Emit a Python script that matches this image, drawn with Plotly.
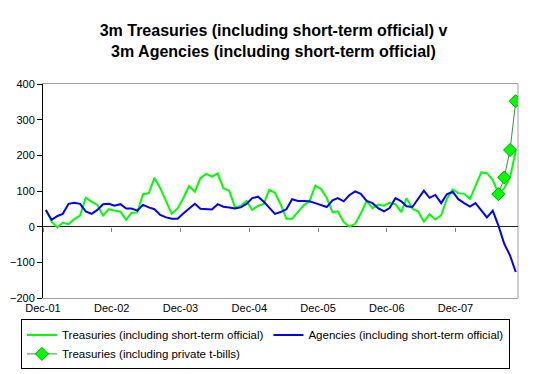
import pandas as pd
import plotly.graph_objects as go

start_month = "2001-12-01"
n_months = 83

treasuries = [47, 14, -2, 11, 7, 21, 31, 81, 70, 61, 31, 49, 45, 42, 19, 39, 40, 91, 94, 137,
              108, 72, 36, 51, 79, 114, 98, 136, 148, 140, 149, 108, 101, 54, 58, 72, 47, 58, 64, 103,
              95, 63, 22, 22, 40, 60, 70, 115, 106, 81, 40, 43, 13, 0, 8, 37, 72, 52, 62, 59,
              67, 63, 41, 80, 50, 43, 14, 35, 20, 32, 78, 104, 94, 92, 78, 113, 152, 150, 131, 92,
              108, 139, 212]
agencies = [47, 19, 30, 36, 64, 67, 64, 43, 36, 47, 63, 64, 59, 63, 51, 51, 45, 61, 54, 49,
            33, 26, 22, 22, 37, 51, 64, 50, 50, 48, 63, 56, 54, 51, 54, 64, 80, 84, 70, 53,
            36, 41, 49, 77, 72, 72, 71, 66, 60, 55, 74, 80, 71, 88, 99, 92, 72, 66, 52, 43,
            52, 80, 71, 57, 55, 78, 101, 81, 89, 66, 91, 98, 77, 66, 56, 66, 47, 26, 45, 3,
            -48, -81, -127]
private_tbills = [None] * 79 + [91, 138, 215, 352]

names = ["Treasuries (including short-term official)",
         "Agencies (including short-term official)",
         "Treasuries (including private t-bills)"]
title_lines = ["3m Treasuries (including short-term official) v",
               "3m Agencies (including short-term official)"]
y_ticks = [-200, -100, 0, 100, 200, 300, 400]

dates = pd.date_range(start_month, periods=n_months, freq="MS") + pd.Timedelta(days=15)
x_range = ["2001-12-01", "2008-10-28"]
FONT = "Liberation Sans, Arial, sans-serif"

fig = go.Figure()
fig.add_trace(go.Scatter(x=dates, y=treasuries, name=names[0], mode="lines",
                         line=dict(color="#00FF00", width=2)))
fig.add_trace(go.Scatter(x=dates, y=agencies, name=names[1], mode="lines",
                         line=dict(color="#0000FF", width=2)))
fig.add_trace(go.Scatter(x=dates, y=private_tbills, name=names[2], mode="lines+markers",
                         xaxis="x2",
                         line=dict(color="#339933", width=1),
                         marker=dict(symbol="diamond", size=10, color="#00FF00",
                                     line=dict(color="#00A000", width=1))))

fig.update_layout(
    width=547, height=374,
    margin=dict(l=43, r=29, t=84, b=76, autoexpand=False),
    paper_bgcolor="white", plot_bgcolor="white",
    font=dict(family=FONT, size=11, color="black"),
    title=dict(text="<b>" + "<br>".join(title_lines) + "</b>",
               x=0.5, xanchor="center", y=0.904, yanchor="middle",
               font=dict(family=FONT, size=16, color="black")),
    showlegend=True,
    legend=dict(orientation="h", x=-0.0464, y=-0.1, xanchor="left", yanchor="top",
                bordercolor="black", borderwidth=1, bgcolor="white",
                font=dict(family=FONT, size=11.5, color="black"),
                itemwidth=30, tracegroupgap=0),
    xaxis=dict(type="date", range=x_range, tick0="2001-12-01", dtick="M12",
               tickformat="%b-%y", showgrid=False, zeroline=False,
               showline=True, linecolor="#A0A0A0", linewidth=1, mirror=True,
               ticks="", tickfont=dict(family=FONT, size=11, color="black")),
    xaxis2=dict(type="date", range=x_range, tick0="2001-12-01", dtick="M12",
                overlaying="x", anchor="free", position=1/3,
                showticklabels=False, showgrid=False, zeroline=False, showline=False,
                ticks="outside", ticklen=4, tickcolor="#808080"),
    yaxis=dict(range=[-200, 400], tickvals=y_ticks, showgrid=False,
               zeroline=True, zerolinecolor="#202020", zerolinewidth=1,
               showline=True, linecolor="black", linewidth=1,
               ticks="outside", ticklen=5, tickcolor="black",
               tickfont=dict(family=FONT, size=11, color="black")),
)
fig.add_shape(type="line", xref="paper", yref="paper", x0=1, x1=1, y0=0, y1=1,
              line=dict(color="#A0A0A0", width=1), layer="below")

fig.write_html("out.html", config={"displayModeBar": False},
               post_script="document.body.style.margin='0';")
